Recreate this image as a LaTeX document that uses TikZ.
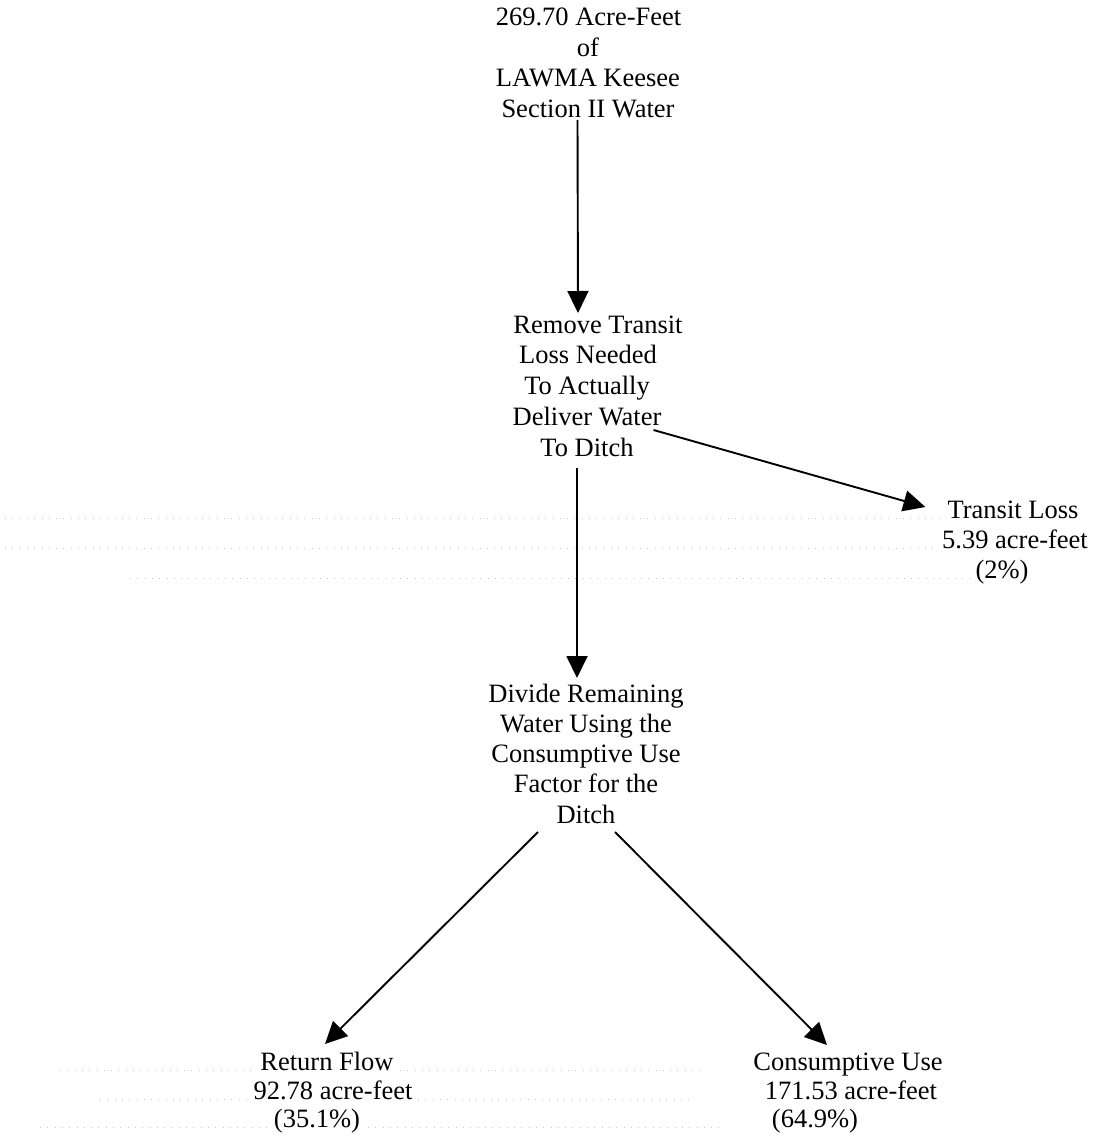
\documentclass[tikz,border=0pt]{standalone}
\usepackage{fontspec}
\setmainfont{Liberation Serif}
\usetikzlibrary{arrows.meta}
\begin{document}
\begin{tikzpicture}[x=1pt,y=-1pt,
  txt/.style={anchor=base,inner sep=0pt,font=\fontsize{26.5}{30}\selectfont},
  arr/.style={line width=1.9pt,-{Triangle[length=22pt,width=21pt]}},
  leader/.style={gray!45,line width=0.7pt,dash pattern=on 0.8pt off 6.5pt}]
\useasboundingbox (0,0) rectangle (1094,1142);
% faint dotted leader rows (scan residue)
\draw[leader] (5,518) -- (940,518);
\draw[leader] (5,548) -- (935,548);
\draw[leader] (130,578) -- (970,578);
\draw[leader] (60,1070) -- (255,1070) (400,1070) -- (700,1070);
\draw[leader] (100,1099) -- (250,1099) (418,1099) -- (690,1099);
\draw[leader] (40,1127) -- (268,1127) (368,1127) -- (720,1127);
% top block
\node[txt] (top1) at (588.5,26) {269.70 Acre-Feet};
\node[txt] (top2) at (588,56.5) {of};
\node[txt] (top3) at (588,87) {LAWMA Keesee};
\node[txt] (top4) at (588,117.5) {Section II Water};
% remove block
\node[txt] (rem1) at (598,333) {Remove Transit};
\node[txt] (rem2) at (588,363.5) {Loss Needed};
\node[txt] (rem3) at (587,394.5) {To Actually};
\node[txt] (rem4) at (587,425.5) {Deliver Water};
\node[txt] (rem5) at (587,456) {To Ditch};
% transit loss block
\node[txt] (tl1) at (1013,518) {Transit Loss};
\node[txt] (tl2) at (1015,548) {5.39 acre-feet};
\node[txt] (tl3) at (1002,578) {(2\%)};
% divide block
\node[txt] (div1) at (586,702) {Divide Remaining};
\node[txt] (div2) at (586,732) {Water Using the};
\node[txt] (div3) at (586,762) {Consumptive Use};
\node[txt] (div4) at (586,792.5) {Factor for the};
\node[txt] (div5) at (586,823) {Ditch};
% return flow block
\node[txt] (rf1) at (327,1070) {Return Flow};
\node[txt] (rf2) at (333,1099) {92.78 acre-feet};
\node[txt] (rf3) at (317,1127) {(35.1\%)};
% consumptive use block
\node[txt] (cu1) at (848,1070) {Consumptive Use};
\node[txt] (cu2) at (851,1099) {171.53 acre-feet};
\node[txt] (cu3) at (815,1127) {(64.9\%)};
% connectors
\draw[arr] ([shift={(-10.5,2.5)}]top4.base) -- ([shift={(-20,-20)}]rem1.base);
\draw[arr] ([shift={(-10,12)}]rem5.base) -- ([shift={(-9,-24)}]div1.base);
\draw[arr] ([shift={(-8,4.5)}]rem4.base east) -- ([shift={(-22,-11)}]tl1.base west);
\draw[arr] ([shift={(-48,9)}]div5.base) -- ([shift={(-2,-26)}]rf1.base);
\draw[arr] ([shift={(29,9)}]div5.base) -- ([shift={(-21,-25)}]cu1.base);
\end{tikzpicture}
\end{document}
